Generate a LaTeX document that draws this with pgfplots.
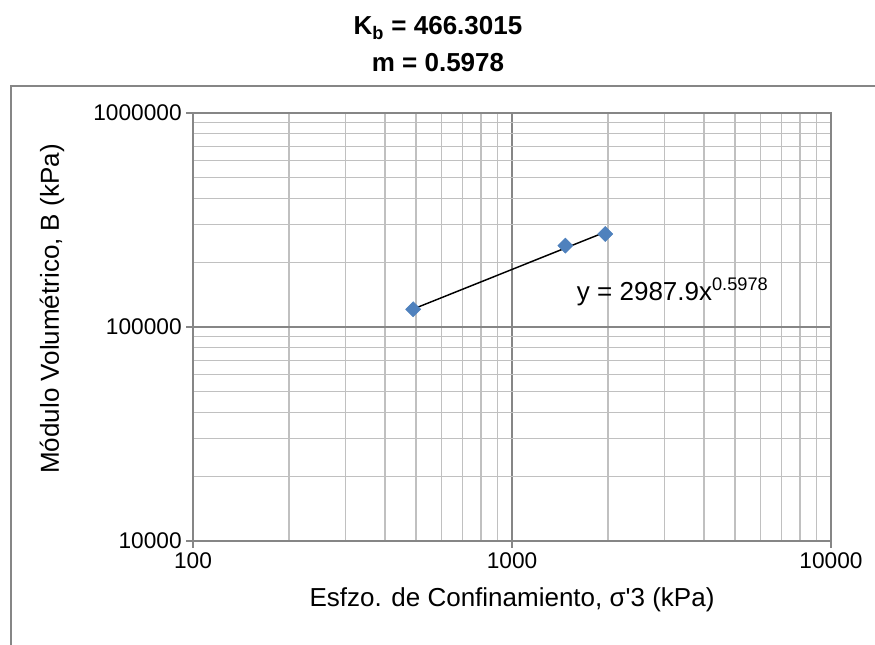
\documentclass[border=0pt]{standalone}
\usepackage{fontspec}
\setmainfont{Liberation Sans}
\usepackage{pgfplots}
\pgfplotsset{compat=1.18}
\definecolor{frame}{RGB}{134,134,134}
\definecolor{majgrid}{RGB}{134,134,134}
\definecolor{mingrid}{RGB}{192,192,192}
\definecolor{mk}{RGB}{79,129,189}
\begin{document}
\begin{tikzpicture}
\useasboundingbox (-144.75pt,-77.25pt) rectangle (511.5pt,405.75pt);
\draw[color=frame, line width=1.5pt] (-136.5pt,-90pt) -- (-136.5pt,341.6pt) -- (530pt,341.6pt);
\node[anchor=base, font=\fontsize{19.5}{22}\selectfont\bfseries] at (183.75pt,379.5pt) {K\textsubscript{b} = 466.3015};
\node[anchor=base, font=\fontsize{19.5}{22}\selectfont\bfseries] at (183.75pt,351.75pt) {m = 0.5978};
\begin{axis}[
  at={(0pt,0pt)}, anchor=south west,
  scale only axis, width=478.5pt, height=321pt,
  xmode=log, ymode=log,
  xmin=100, xmax=10000, ymin=10000, ymax=1000000,
  xtick={100,1000,10000}, xticklabels={100,1000,10000},
  ytick={10000,100000,1000000}, yticklabels={10000,100000,1000000},
  minor xtick={200,300,400,500,600,700,800,900,2000,3000,4000,5000,6000,7000,8000,9000},
  minor ytick={20000,30000,40000,50000,60000,70000,80000,90000,200000,300000,400000,500000,600000,700000,800000,900000},
  grid=both,
  major grid style={color=majgrid, line width=0.9pt},
  minor grid style={color=mingrid, line width=0.9pt},
  axis line style={color=frame, line width=1.2pt},
  tick style={color=frame, line width=1.2pt},
  tick align=outside, major tick length=5pt, minor tick length=0pt,
  xtick pos=bottom, ytick pos=left,
  /pgf/number format/assume math mode=true,
  tick label style={font=\fontsize{17}{20}\selectfont},
  label style={font=\fontsize{19.5}{23}\selectfont},
  xlabel={Esfzo. de Confinamiento, σ\textquotesingle 3 (kPa)},
  ylabel={Módulo Volumétrico, B (kPa)},
  xlabel style={at={(axis description cs:0.5,-0.154)}, anchor=base},
  ylabel style={at={(axis description cs:-0.221,0.542)}, anchor=center},
  clip=false,
]
\addplot[black, line width=1.1pt] coordinates {(490,121300) (1960,277600)};
\addplot[only marks, mark=square*, mark size=4pt, color=mk, mark options={fill=mk, draw=mk, rotate=45}] coordinates {
(490,121000) (1470,240000) (1960,272000)};
\node[anchor=base west, font=\fontsize{19.5}{23}\selectfont] at (axis cs:1545,133000) {y = 2987.9x\textsuperscript{0.5978}};
\end{axis}
\end{tikzpicture}
\end{document}
